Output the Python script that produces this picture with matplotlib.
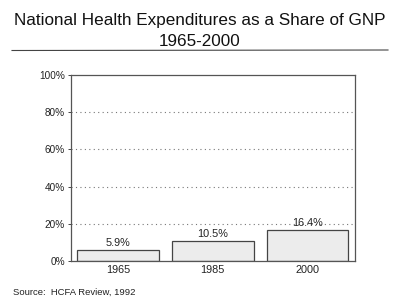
import matplotlib.pyplot as plt
from matplotlib.lines import Line2D

plt.rcParams["font.family"] = ["Liberation Sans", "DejaVu Sans"]

years = ["1965", "1985", "2000"]
share = [5.9, 10.5, 16.4]
yticks = [0, 20, 40, 60, 80, 100]

fig = plt.figure(figsize=(4.0, 3.05), dpi=100)
ax = fig.add_axes([70.5 / 400, 1 - 261 / 305, 284.5 / 400, 186 / 305])

ax.bar(range(len(years)), share, width=0.86, color="#ececec",
       edgecolor="#444444", linewidth=0.9, zorder=2)
for i, v in enumerate(share):
    ax.text(i, v + 1.2, f"{v}%", ha="center", va="bottom", fontsize=7.8, color="#222222")

ax.set_xlim(-0.5, 2.5)
ax.set_ylim(0, 100)
ax.set_yticks(yticks)
ax.set_yticklabels([f"{t}%" for t in yticks], fontsize=7.2, color="#222222")
ax.set_xticks(range(len(years)))
ax.set_xticklabels(years, fontsize=7.8, color="#222222")
ax.tick_params(length=0, pad=3)
ax.tick_params(axis="y", length=2, width=0.7, color="#444444", pad=2)
for y in yticks[1:-1]:
    ax.axhline(y, color="#777777", linestyle=(0, (1, 3)), linewidth=0.8, zorder=1)
for s in ax.spines.values():
    s.set_color("#555555")
    s.set_linewidth(0.9)

fig.text(0.5, 1 - 21 / 305, "National Health Expenditures as a Share of GNP",
         ha="center", va="center", fontsize=12.3, color="#111111")
fig.text(0.5, 1 - 41 / 305, "1965-2000", ha="center", va="center",
         fontsize=12.3, color="#111111")
fig.add_artist(Line2D([12 / 400, 388 / 400], [1 - 50.5 / 305, 1 - 50 / 305],
                      color="#444444", linewidth=0.8))
fig.text(13 / 400, 1 - 292 / 305, "Source:  HCFA Review, 1992", ha="left",
         va="center", fontsize=6.8, color="#222222")

fig.savefig("out.png", dpi=100)
